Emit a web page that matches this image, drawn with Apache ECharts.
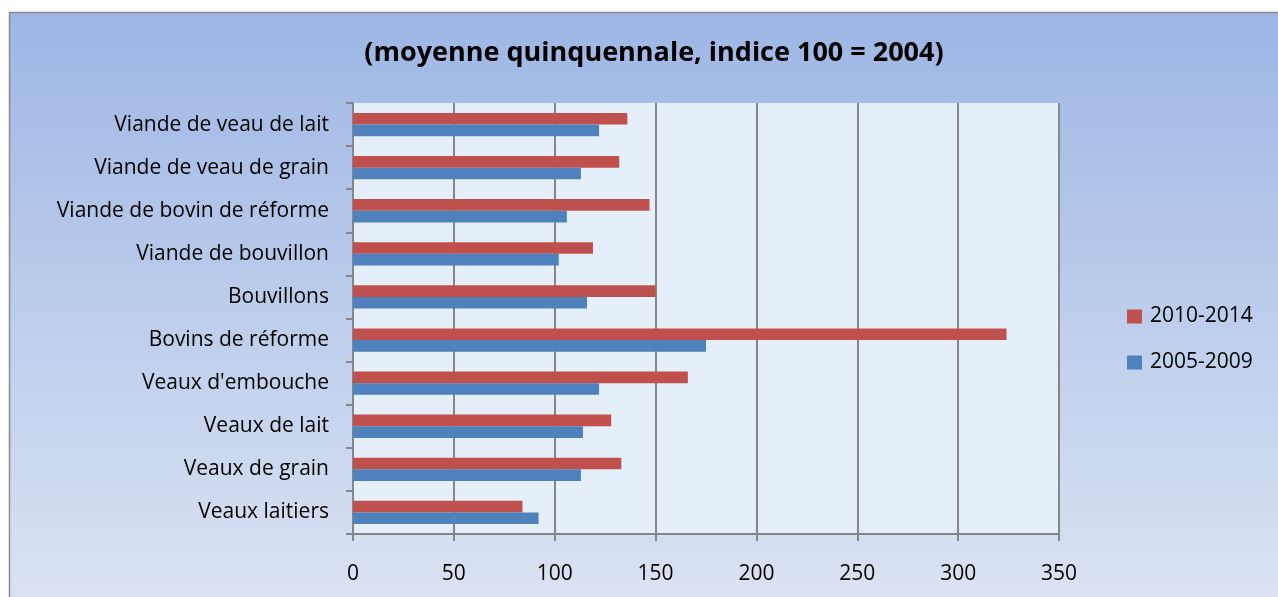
<!DOCTYPE html>
<html>
<head>
<meta charset="utf-8">
<script src="https://cdn.jsdelivr.net/npm/echarts@6/dist/echarts.min.js"></script>
<style>
  html, body { margin: 0; padding: 0; background: #ffffff; }
  #chart { width: 1278px; height: 597px; }
</style>
</head>
<body>
<div id="chart"></div>
<script>
const titleText = '(moyenne quinquennale, indice 100 = 2004)';
const categories = [
  'Viande de veau de lait',
  'Viande de veau de grain',
  'Viande de bovin de réforme',
  'Viande de bouvillon',
  'Bouvillons',
  'Bovins de réforme',
  "Veaux d'embouche",
  'Veaux de lait',
  'Veaux de grain',
  'Veaux laitiers'
];
const seriesNames = ['2010-2014', '2005-2009'];
const values2010_2014 = [136, 132, 147, 119, 150, 324, 166, 128, 133, 84];
const values2005_2009 = [122, 113, 106, 102, 116, 175, 122, 114, 113, 92];
const xTicks = [0, 50, 100, 150, 200, 250, 300, 350];

const FONT = '"Open Sans", Lato, sans-serif';
const chart = echarts.init(document.getElementById('chart'), null, { renderer: 'canvas' });

chart.setOption({
  backgroundColor: '#ffffff',
  animation: false,
  graphic: [{
    type: 'rect',
    z: -10,
    silent: true,
    shape: { x: 9.5, y: 12.5, width: 1300, height: 620 },
    style: {
      fill: new echarts.graphic.LinearGradient(0, 0, 0, 1, [
        { offset: 0, color: '#9DB6E4' },
        { offset: 1, color: '#DEE5F3' }
      ]),
      stroke: '#8C8C8C',
      lineWidth: 1.5
    }
  }],
  title: {
    text: titleText,
    left: 649,
    textAlign: 'center',
    top: 35,
    textStyle: { fontFamily: FONT, fontWeight: 'bold', fontSize: 27, color: '#000' }
  },
  legend: {
    orient: 'vertical',
    left: 1122,
    top: 301,
    itemWidth: 15,
    itemHeight: 14,
    itemGap: 25,
    icon: 'rect',
    data: seriesNames,
    textStyle: { fontFamily: FONT, fontSize: 21, color: '#000', padding: [0, 0, 0, 3] }
  },
  grid: {
    left: 353, right: 219, top: 103, bottom: 63,
    show: true,
    backgroundColor: '#E5EFFA',
    borderWidth: 0
  },
  xAxis: {
    type: 'value',
    min: 0, max: 350, interval: 50,
    axisLine: { show: true, lineStyle: { color: '#868686', width: 2 } },
    axisTick: { show: true, length: 7, lineStyle: { color: '#868686', width: 2 } },
    splitLine: { show: true, lineStyle: { color: '#868686', width: 2 } },
    axisLabel: {
      fontFamily: FONT, fontSize: 21, color: '#000', margin: 30,
      formatter: v => xTicks.includes(v) ? String(v) : ''
    }
  },
  yAxis: {
    type: 'category',
    inverse: true,
    data: categories,
    axisLine: { show: true, lineStyle: { color: '#868686', width: 2 } },
    axisTick: { show: true, length: 7, alignWithLabel: false, lineStyle: { color: '#868686', width: 2 } },
    axisLabel: { fontFamily: FONT, fontSize: 21, color: '#000', margin: 24, padding: [5, 0, 0, 0] }
  },
  series: [
    {
      name: seriesNames[0], type: 'bar', data: values2010_2014,
      barGap: '0%', barCategoryGap: '46%',
      itemStyle: { color: '#C0504D' }
    },
    {
      name: seriesNames[1], type: 'bar', data: values2005_2009,
      barGap: '0%', barCategoryGap: '46%',
      itemStyle: { color: '#4F81BD' }
    }
  ]
});
</script>
</body>
</html>
